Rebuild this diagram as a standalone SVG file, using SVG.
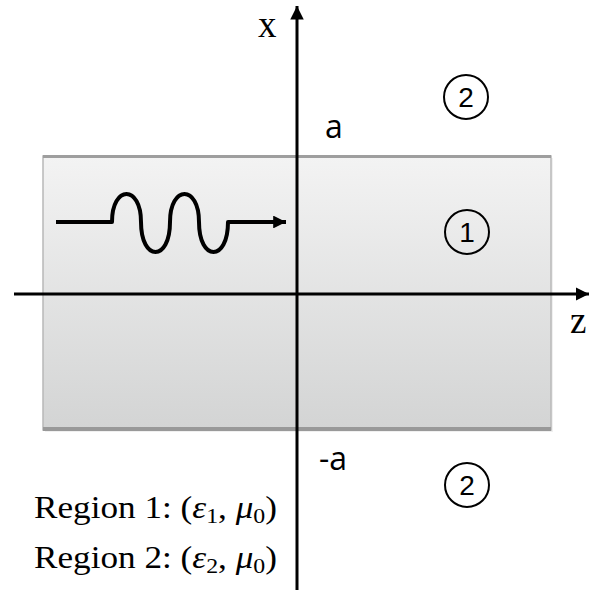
<svg xmlns="http://www.w3.org/2000/svg" width="589" height="590" viewBox="0 0 589 590">
<style>
.axis{stroke:#000;stroke-width:3;fill:none}
.wave{stroke:#000;stroke-width:4;fill:none;stroke-linejoin:round}
.ring{fill:none;stroke:#000;stroke-width:2}
.num{font-family:"Liberation Sans","DejaVu Sans",sans-serif;font-size:28px;text-anchor:middle;fill:#000}
.lbl{font-family:"Liberation Serif","DejaVu Serif",serif;fill:#000}
.lbls{font-family:"Open Sans","Liberation Sans",sans-serif;fill:#000}
</style>
<defs>
<linearGradient id="slab" x1="0" y1="0" x2="0" y2="1">
<stop offset="0" stop-color="#f3f3f3"/>
<stop offset="1" stop-color="#d3d4d4"/>
</linearGradient>
<marker id="ah" viewBox="0 0 10 10" refX="10" refY="5" markerWidth="4.5" markerHeight="4.5" orient="auto" markerUnits="strokeWidth">
<path d="M0,0 L10,5 L0,10 z" fill="#000"/>
</marker>
<marker id="ahw" viewBox="0 0 10 10" refX="10" refY="5" markerWidth="3.2" markerHeight="3.2" orient="auto" markerUnits="strokeWidth">
<path d="M0,0 L10,5 L0,10 z" fill="#000"/>
</marker>
</defs>
<g id="slab-region1">
<rect x="45" y="158" width="508" height="274" fill="#000" opacity="0.06"/>
<rect x="43" y="156" width="508" height="274" fill="url(#slab)" stroke="#b8b8b8" stroke-width="1.5"/>
<line x1="43" y1="156.5" x2="551" y2="156.5" stroke="#9e9e9e" stroke-width="3"/>
<line x1="43" y1="429" x2="551" y2="429" stroke="#999" stroke-width="4"/>
</g>
<g id="connectors">
<line class="axis" x1="297" y1="590" x2="297" y2="6" marker-end="url(#ah)"/>
<line class="axis" x1="14" y1="294" x2="589" y2="294" marker-end="url(#ah)"/>
</g>
<g id="wave">
<path class="wave" d="M56,222 H112 C112,184.7 141,184.7 141,222 C141,262 170,262 170,222 C170,184.7 199,184.7 199,222 C199,262 228,262 228,222 H286" marker-end="url(#ahw)"/>
</g>
<g id="axis-labels">
<text class="lbl" x="258" y="37" font-size="37">x</text>
<text class="lbl" x="570" y="333" font-size="37">z</text>
<text class="lbls" x="325" y="138" font-size="32">a</text>
<text class="lbls" x="319" y="470" font-size="32">-a</text>
</g>
<g id="region2-top">
<circle class="ring" cx="466" cy="97" r="22"/>
<text class="num" x="466" y="107">2</text>
</g>
<g id="region1">
<circle class="ring" cx="467" cy="232" r="22"/>
<text class="num" x="467" y="242">1</text>
</g>
<g id="region2-bottom">
<circle class="ring" cx="467" cy="485" r="22"/>
<text class="num" x="467" y="495">2</text>
</g>
<g id="legend">
<text class="lbl" x="34" y="518" font-size="31" textLength="243" lengthAdjust="spacingAndGlyphs">Region 1: (<tspan font-style="italic">ε</tspan><tspan font-size="21" dy="5">1</tspan><tspan dy="-5">, </tspan><tspan font-style="italic">μ</tspan><tspan font-size="21" dy="5">0</tspan><tspan dy="-5">)</tspan></text>
<text class="lbl" x="34" y="568" font-size="31" textLength="243" lengthAdjust="spacingAndGlyphs">Region 2: (<tspan font-style="italic">ε</tspan><tspan font-size="21" dy="5">2</tspan><tspan dy="-5">, </tspan><tspan font-style="italic">μ</tspan><tspan font-size="21" dy="5">0</tspan><tspan dy="-5">)</tspan></text>
</g>
</svg>
